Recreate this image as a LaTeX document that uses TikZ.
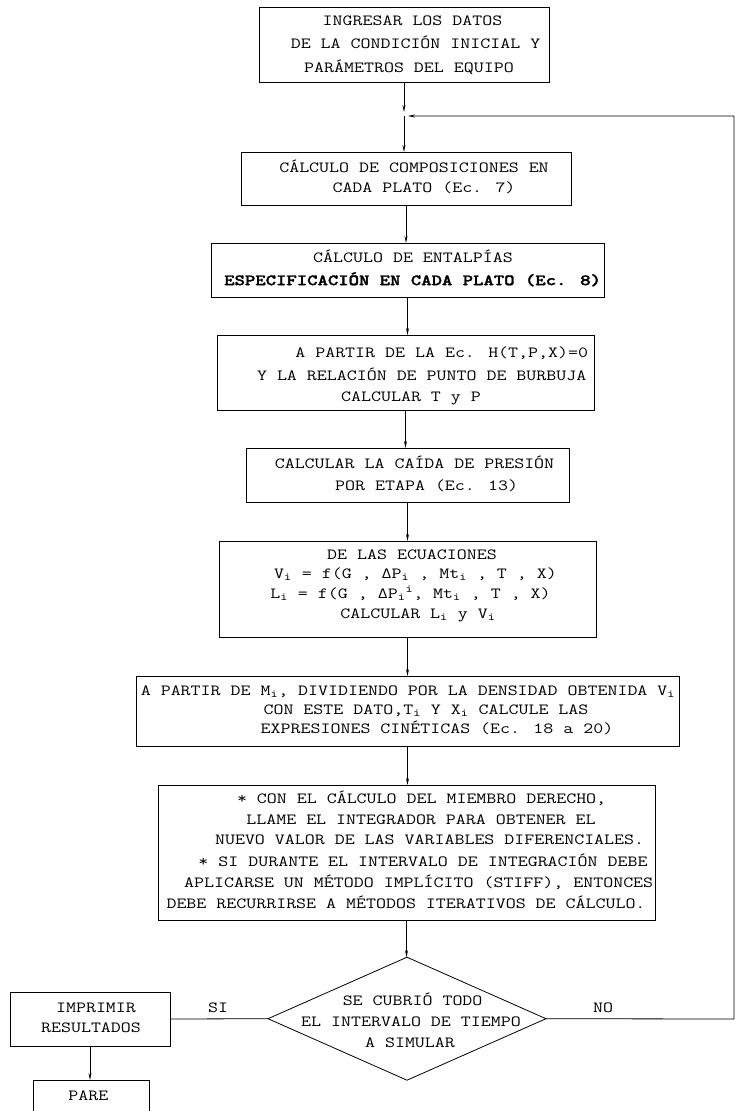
\documentclass[tikz,border=0pt]{standalone}
\usepackage{fontspec}
\usepackage{graphicx}
\newfontfamily\bmono{lmmonolt10-bold.otf}[FakeBold=1.6]
\usetikzlibrary{shapes.geometric,arrows.meta}
\newcommand{\sx}[1]{\scalebox{1.25}[1]{#1}}
\begin{document}
\begin{tikzpicture}[x=1pt,y=-1pt,
  line width=0.8pt,
  >={Stealth[length=7pt,width=3pt]},
  box/.style={draw, rectangle, inner sep=0pt, outer sep=0pt},
  ln/.style={font=\ttfamily\fontsize{15.5}{20}\selectfont, inner sep=0pt, anchor=mid},
  lnb/.style={font=\bmono\fontsize{15.8}{20}\selectfont, inner sep=0pt, anchor=mid},
  dec/.style={draw, diamond, inner sep=0pt, outer sep=0pt},
  conn/.style={->}
]
\useasboundingbox (0,0) rectangle (735,1111);

% boxes
\node[box, minimum width=290, minimum height=75] (b1) at (404,44.5) {};
\node[box, minimum width=330, minimum height=53] (b2) at (406,178.5) {};
\node[box, minimum width=393, minimum height=54] (b3) at (407.5,270) {};
\node[box, minimum width=377, minimum height=75] (b4) at (405.5,372.5) {};
\node[box, minimum width=323, minimum height=54] (b5) at (407.5,475) {};
\node[box, minimum width=377, minimum height=96] (b6) at (407.5,589) {};
\node[box, minimum width=543, minimum height=70] (b7) at (407.5,711) {};
\node[box, minimum width=497, minimum height=135] (b8) at (406.5,852.5) {};
\node[dec, minimum width=278, minimum height=123] (d) at (407,1018.7) {};
\node[box, minimum width=160, minimum height=54] (imp) at (90,1019) {};
\node[box, minimum width=116, minimum height=44] (pare) at (91,1102) {};

% texts
\node[ln] (t1a) at (412.5,23) {\sx{INGRESAR LOS DATOS}};
\node[ln] (t1b) at (415.5,46) {\sx{DE LA CONDICIÓN INICIAL Y}};
\node[ln] (t1c) at (409,70) {\sx{PARÁMETROS DEL EQUIPO}};

\node[ln] (t2a) at (414,170) {\sx{CÁLCULO DE COMPOSICIONES EN}};
\node[ln] (t2b) at (424,190) {\sx{CADA PLATO (Ec. 7)}};

\node[ln] (t3a) at (413,260) {\sx{CÁLCULO DE ENTALPÍAS}};
\node[lnb] (t3b) at (412.6,283) {\sx{ESPECIFICACIÓN EN CADA PLATO (Ec. 8)}};

\node[ln] (t4a) at (441.7,355) {\sx{A PARTIR DE LA Ec. H(T,P,X)=0}};
\node[ln] (t4b) at (421.7,378) {\sx{Y LA RELACIÓN DE PUNTO DE BURBUJA}};
\node[ln] (t4c) at (411,399) {\sx{CALCULAR T y P}};

\node[ln] (t5a) at (414.5,466) {\sx{CALCULAR LA CAÍDA DE PRESIÓN}};
\node[ln] (t5b) at (426.7,488) {\sx{POR ETAPA (Ec. 13)}};

\node[ln] (t6a) at (412,557) {\sx{DE LAS ECUACIONES}};
\node[ln] (t6b) at (415.5,576) {\sx{V\textsubscript{i} = f(G , ΔP\textsubscript{i} , Mt\textsubscript{i} , T , X)}};
\node[ln] (t6c) at (410.5,596) {\sx{L\textsubscript{i} = f(G , ΔP\textsubscript{i}\textsuperscript{i}, Mt\textsubscript{i} , T , X)}};
\node[ln] (t6d) at (418,616) {\sx{CALCULAR L\textsubscript{i} y V\textsubscript{i}}};

\node[ln] (t7a) at (408,693) {\sx{A PARTIR DE M\textsubscript{i}, DIVIDIENDO POR LA DENSIDAD OBTENIDA V\textsubscript{i}}};
\node[ln] (t7b) at (426,712) {\sx{CON ESTE DATO,T\textsubscript{i} Y X\textsubscript{i} CALCULE LAS}};
\node[ln] (t7c) at (437,731) {\sx{EXPRESIONES CINÉTICAS (Ec. 18 a 20)}};

\node[ln] (t8a) at (421.6,801) {\sx{* CON EL CÁLCULO DEL MIEMBRO DERECHO,}};
\node[ln] (t8b) at (421,822) {\sx{LLAME EL INTEGRADOR PARA OBTENER EL}};
\node[ln] (t8c) at (429.6,842) {\sx{NUEVO VALOR DE LAS VARIABLES DIFERENCIALES.}};
\node[ln] (t8d) at (423,864) {\sx{* SI DURANTE EL INTERVALO DE INTEGRACIÓN DEBE}};
\node[ln] (t8e) at (418.7,885) {\sx{APLICARSE UN MÉTODO IMPLÍCITO (STIFF), ENTONCES}};
\node[ln] (t8f) at (406,906) {\sx{DEBE RECURRIRSE A MÉTODOS ITERATIVOS DE CÁLCULO.}};

\node[ln] (tda) at (412.6,1003) {\sx{SE CUBRIÓ TODO}};
\node[ln] (tdb) at (411,1024) {\sx{EL INTERVALO DE TIEMPO}};
\node[ln] (tdc) at (410,1045) {\sx{A SIMULAR}};

\node[ln] (timpa) at (96,1010) {\sx{IMPRIMIR}};
\node[ln] (timpb) at (91,1030) {\sx{RESULTADOS}};
\node[ln] (tpare) at (88.4,1098) {\sx{PARE}};

\node[ln] (si) at (218,1010) {\sx{SI}};
\node[ln] (no) at (603,1010) {\sx{NO}};

% connectors
\coordinate (j) at (404,116);
\coordinate (r1) at (734,1019);
\coordinate (r2) at (734,116);
\draw[conn, shorten >=4pt] (b1.south) -- (j);
\draw[conn] (j) -- (j |- b2.north);
\draw[conn, shorten >=4pt] (d.east) -- (r1) -- (r2) -- (j);
\draw[conn] (b2.south) -- (b2.south |- b3.north);
\draw[conn] (b3.south) -- (b3.south |- b4.north);
\draw[conn] (b4.south) -- (b4.south |- b5.north);
\draw[conn] (b5.south) -- (b5.south |- b6.north);
\draw[conn] (b6.south) -- (b6.south |- b7.north);
\draw[conn] (b7.south) -- (b7.south |- b8.north);
\draw[conn] (b8.south) -- (b8.south |- d.north);
\draw (d.west) -- (imp.east);
\draw[conn] (imp.south) -- (imp.south |- pare.north);
\end{tikzpicture}
\end{document}
